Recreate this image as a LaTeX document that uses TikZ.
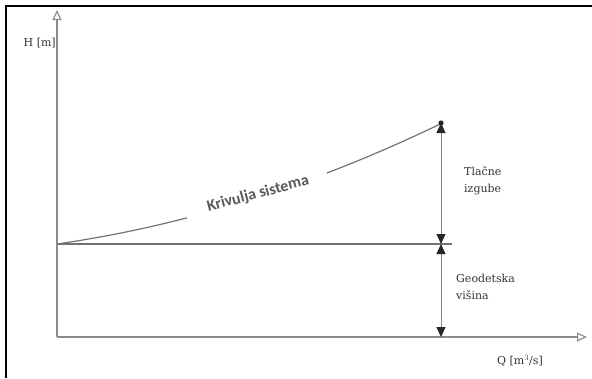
\documentclass[tikz,border=0pt]{standalone}
\usepackage{fontspec}
\setmainfont{DejaVu Serif}
\newfontfamily\curvefont{Carlito}
\usetikzlibrary{arrows.meta}
\begin{document}
\begin{tikzpicture}[x=1pt,y=-1pt,
  axis/.style={draw=black!45,line width=1.8pt,-{Triangle[open,length=10pt,width=9pt,line width=1.2pt]}},
  guide/.style={draw=black!55,line width=1.1pt},
  dimline/.style={draw=black!50,line width=0.9pt,{Triangle[length=10pt,width=9pt,black!85]}-{Triangle[length=10pt,width=9pt,black!85]}},
  lbl/.style={font=\fontsize{11}{17}\selectfont,text=black!80,align=left,inner sep=0pt},
  curvelbl/.style={font=\curvefont\bfseries\fontsize{16}{18}\selectfont,text=black!65,inner sep=0pt}]
\useasboundingbox (0,0) rectangle (592,378);
% frame lines
\draw[line width=1.2pt] (6,378) -- (6,6) -- (592,6);
% axes
\coordinate (O) at (57,337);
\coordinate (Ytop) at (57,10);
\coordinate (Xend) at (587,337);
\draw[axis] (O) -- (Ytop);
\draw[axis] (O) -- (Xend);
\node[lbl,anchor=east] (hl) at (56,43) {H [m]};
\node[lbl] (ql) at (520,361) {Q [m$^3$/s]};
% static head level
\coordinate (S) at (57,244);
\coordinate (Sr) at (452,244);
\coordinate (Dbase) at (441,244);
\coordinate (Dbot) at (441,337);
\coordinate (P) at (441,123);
\draw[guide] (S) -- (Sr);
% system curve H = H0 + a*Q + b*Q^2, broken around its label
\draw[guide,line width=1.2pt] plot[domain=0:130,samples=30,smooth]
  ({57+\x},{244-0.1436*\x-0.00045*\x*\x});
\draw[guide,line width=1.2pt] plot[domain=270:384,samples=30,smooth]
  ({57+\x},{244-0.1436*\x-0.00045*\x*\x});
\node[curvelbl,rotate=15] (kl) at (258,194) {Krivulja sistema};
\fill[black!85] (P) circle (2.6pt);
% dimension arrows
\draw[dimline] (P) -- (Dbase);
\draw[dimline] (Dbase) -- (Dbot);
\node[lbl,anchor=west] (tl) at (464,181) {Tlačne\\izgube};
\node[lbl,anchor=west] (gl) at (456,287) {Geodetska\\višina};
\end{tikzpicture}
\end{document}
